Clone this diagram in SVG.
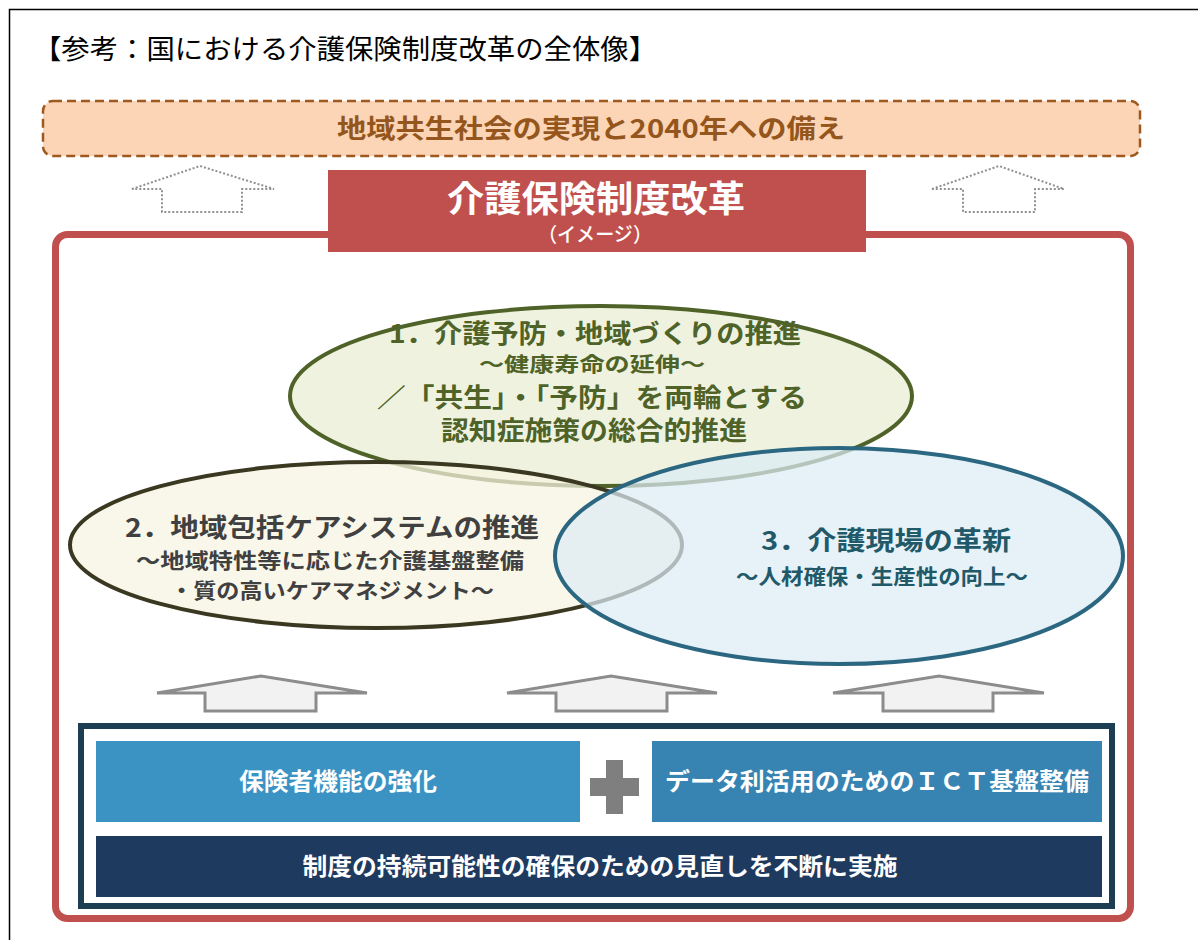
<svg xmlns="http://www.w3.org/2000/svg" width="1198" height="940" viewBox="0 0 1198 940">
<style>
text{font-family:"Noto Sans CJK JP","Noto Sans",sans-serif;text-anchor:middle}
.b{font-weight:700}
.w{fill:#fff}
.ga{fill:#F2F2F2;stroke:#8C8C8C;stroke-width:3;stroke-linejoin:miter}
.da{fill:#fff;stroke:#8F8F8F;stroke-width:2;stroke-dasharray:2 2}
</style>
<rect x="0" y="0" width="1198" height="940" fill="#fff"/>
<path d="M9.5 940 V9.5 H1198" fill="none" stroke="#000" stroke-width="1.5"/>
<g id="title"><text x="33" y="59" font-size="27" style="text-anchor:start" textLength="624" lengthAdjust="spacingAndGlyphs">【参考：国における介護保険制度改革の全体像】</text></g>
<g id="goal">
<rect x="43" y="101" width="1097" height="55" rx="10" fill="#FBD5B5" stroke="#9E5A1E" stroke-width="2.5" stroke-dasharray="9 5"/>
<text class="b" x="591" y="138" font-size="26" fill="#94561C" textLength="508" lengthAdjust="spacingAndGlyphs">地域共生社会の実現と2040年への備え</text>
</g>
<g id="connectors">
<polygon class="da" points="132,189 200,166 274,189 242,189 242,212 162,212 162,189"/>
<polygon class="da" points="932,189 999,166 1064,189 1035,189 1035,212 963,212 963,189"/>
<polygon class="ga" points="157,693 261,676 367,693 316,693 316,711 205,711 205,693"/>
<polygon class="ga" points="507,693 611,676 717,693 667,693 667,711 556,711 556,693"/>
<polygon class="ga" points="833,693 939,676 1044,693 993,693 993,711 883,711 883,693"/>
</g>
<g id="reform-frame"><rect x="55.5" y="234.5" width="1075" height="684" rx="12" fill="none" stroke="#C0504D" stroke-width="7"/></g>
<g id="reform-title">
<rect x="328" y="170" width="538" height="82" fill="#C0504D"/>
<text class="b w" x="596" y="212" font-size="36" textLength="298" lengthAdjust="spacingAndGlyphs">介護保険制度改革</text>
<text class="w" x="595" y="242" font-size="20" font-weight="500" textLength="114" lengthAdjust="spacingAndGlyphs">（イメージ）</text>
</g>
<g id="ellipse1"><ellipse cx="601" cy="396" rx="311" ry="90" fill="#EEF2DE" stroke="#4F6228" stroke-width="4"/></g>
<g id="ellipse2"><ellipse cx="376" cy="545" rx="306" ry="83" fill="#F7F4E0" fill-opacity="0.72" stroke="#3B3822" stroke-width="4"/></g>
<g id="ellipse3"><ellipse cx="839" cy="556" rx="284" ry="108" fill="#DCEBF5" fill-opacity="0.72" stroke="#2C6782" stroke-width="4"/></g>
<g id="ellipse1-text" fill="#4F6228">
<text class="b" x="595" y="343" font-size="26" textLength="412" lengthAdjust="spacingAndGlyphs">1．介護予防・地域づくりの推進</text>
<text class="b" x="592" y="372" font-size="20" textLength="226" lengthAdjust="spacingAndGlyphs">～健康寿命の延伸～</text>
<text class="b" x="592" y="407" font-size="26" textLength="430" lengthAdjust="spacingAndGlyphs">／「共生」・「予防」を両輪とする</text>
<text class="b" x="594" y="440" font-size="26" textLength="306" lengthAdjust="spacingAndGlyphs">認知症施策の総合的推進</text>
</g>
<g id="ellipse2-text" fill="#404040">
<text class="b" x="332" y="537" font-size="26" textLength="414" lengthAdjust="spacingAndGlyphs">2．地域包括ケアシステムの推進</text>
<text class="b" x="330" y="568" font-size="21" textLength="388" lengthAdjust="spacingAndGlyphs">～地域特性等に応じた介護基盤整備</text>
<text class="b" x="332" y="598" font-size="21" textLength="324" lengthAdjust="spacingAndGlyphs">・質の高いケアマネジメント～</text>
</g>
<g id="ellipse3-text" fill="#215968">
<text class="b" x="886" y="550" font-size="26" textLength="250" lengthAdjust="spacingAndGlyphs">3．介護現場の革新</text>
<text class="b" x="882" y="584" font-size="21" textLength="292" lengthAdjust="spacingAndGlyphs">～人材確保・生産性の向上～</text>
</g>
<g id="base-frame"><rect x="81" y="726" width="1031" height="180" fill="#fff" stroke="#1D3D52" stroke-width="6"/></g>
<g id="insurer">
<rect x="96" y="741" width="484" height="81" fill="#3B93C3"/>
<text class="b w" x="338" y="790" font-size="24" textLength="198" lengthAdjust="spacingAndGlyphs">保険者機能の強化</text>
</g>
<g id="plus"><path d="M606 760 H623 V778 H639 V796 H623 V814 H606 V796 H590 V778 H606 Z" fill="#7F7F7F"/></g>
<g id="ict">
<rect x="652" y="741" width="450" height="81" fill="#3784B3"/>
<text class="b w" x="877" y="790" font-size="24" textLength="424" lengthAdjust="spacingAndGlyphs">データ利活用のためのＩＣＴ基盤整備</text>
</g>
<g id="review">
<rect x="96" y="836" width="1006" height="61" fill="#1F3A5F"/>
<text class="b w" x="600" y="875" font-size="24" textLength="595" lengthAdjust="spacingAndGlyphs">制度の持続可能性の確保のための見直しを不断に実施</text>
</g>
</svg>
